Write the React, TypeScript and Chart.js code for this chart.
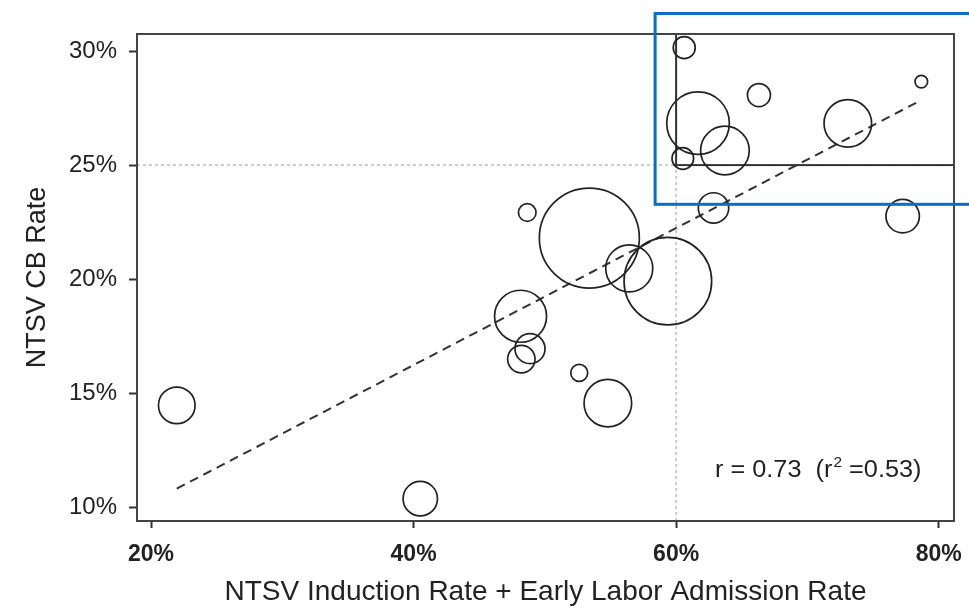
import { useEffect, useRef } from 'react';
import { Chart, registerables } from 'chart.js';
Chart.register(...registerables);

// Hospital data: x = NTSV induction + early labor admission rate (%), y = NTSV CB rate (%), r = bubble radius (hospital volume)
const inductionRate = [21.96, 40.51, 48.66, 53.39, 56.43, 59.37, 48.15, 48.87, 48.21, 52.62, 54.8, 62.85, 60.62, 66.31, 61.67, 63.72, 60.51, 73.08, 78.68, 77.26];
const cbRate = [14.46, 10.37, 22.92, 21.8, 20.47, 19.91, 18.37, 16.95, 16.49, 15.89, 14.56, 23.12, 30.15, 28.07, 26.84, 25.64, 25.29, 26.83, 28.66, 22.76];
const bubbleRadius = [18.3, 17.2, 8.8, 50, 23.5, 43.8, 26, 15, 13.7, 8.5, 23.8, 15.2, 11, 11.5, 31.3, 24.3, 10.8, 23.8, 6.3, 16.7];

// Regression line
const fitX = [21.96, 78.68];
const fitY = [10.81, 27.85];

const xTicks = [20, 40, 60, 80];
const yTicks = [10, 15, 20, 25, 30];
const xRange = [18.93, 81.17];
const yRange = [9.39, 30.75];
const thresholdX = 60;
const thresholdY = 25;
const highlightBox = { xMin: 58.4, xMax: 84, yMin: 23.28, yMax: 31.65 };
const statText = { x: 62.96, y: 11.62, pre: 'r = 0.73  (r', sup: '2', post: ' =0.53)' };

const xTitle = 'NTSV Induction Rate + Early Labor Admission Rate';
const yTitle = 'NTSV CB Rate';

const FONT = "'Liberation Sans', Arial, Helvetica, sans-serif";

const overlay = {
  id: 'overlay',
  beforeDatasetsDraw(chart: any) {
    const { ctx, chartArea: a, scales } = chart;
    const px = scales.x.getPixelForValue(thresholdX);
    const py = scales.y.getPixelForValue(thresholdY);
    ctx.save();
    ctx.strokeStyle = '#9a9a9a';
    ctx.lineWidth = 1;
    ctx.setLineDash([3, 3]);
    ctx.beginPath();
    ctx.moveTo(px, a.bottom);
    ctx.lineTo(px, a.top);
    ctx.moveTo(a.left, py);
    ctx.lineTo(a.right, py);
    ctx.stroke();
    ctx.setLineDash([]);
    ctx.strokeStyle = '#333';
    ctx.lineWidth = 2;
    ctx.strokeRect(px, a.top, a.right - px, py - a.top);
    ctx.restore();
  },
  afterDraw(chart: any) {
    const { ctx, chartArea: a, scales } = chart;
    ctx.save();
    // frame
    ctx.strokeStyle = '#444';
    ctx.lineWidth = 2;
    ctx.strokeRect(a.left, a.top, a.right - a.left, a.bottom - a.top);
    // stats text
    const tx = scales.x.getPixelForValue(statText.x);
    const ty = scales.y.getPixelForValue(statText.y);
    ctx.fillStyle = '#222';
    ctx.textBaseline = 'middle';
    ctx.textAlign = 'left';
    ctx.translate(tx, ty);
    ctx.scale(1.1, 1);
    ctx.font = `23px ${FONT}`;
    let cx = 0;
    ctx.fillText(statText.pre, cx, 0);
    cx += ctx.measureText(statText.pre).width;
    ctx.font = `14px ${FONT}`;
    ctx.fillText(statText.sup, cx + 1, -7);
    cx += ctx.measureText(statText.sup).width + 1;
    ctx.font = `23px ${FONT}`;
    ctx.fillText(statText.post, cx, 0);
    ctx.setTransform(1, 0, 0, 1, 0, 0);
    // blue highlight box
    const bx1 = scales.x.getPixelForValue(highlightBox.xMin);
    const bx2 = scales.x.getPixelForValue(highlightBox.xMax);
    const by1 = scales.y.getPixelForValue(highlightBox.yMax);
    const by2 = scales.y.getPixelForValue(highlightBox.yMin);
    ctx.strokeStyle = '#0a6fc2';
    ctx.lineWidth = 3;
    ctx.strokeRect(bx1, by1, bx2 - bx1, by2 - by1);
    ctx.restore();
  },
};

export default function App() {
  const ref = useRef<HTMLCanvasElement>(null);
  useEffect(() => {
    if (!ref.current) return;
    const chart = new Chart(ref.current, {
      type: 'bubble',
      data: {
        datasets: [
          {
            type: 'bubble',
            data: inductionRate.map((x, i) => ({ x, y: cbRate[i], r: bubbleRadius[i] })),
            backgroundColor: 'rgba(0,0,0,0)',
            borderColor: '#222',
            borderWidth: 1.7,
            hoverRadius: 0,
            clip: false,
          } as any,
          {
            type: 'line',
            data: fitX.map((x, i) => ({ x, y: fitY[i] })),
            borderColor: '#333',
            borderWidth: 2,
            borderDash: [9, 6],
            pointRadius: 0,
            fill: false,
          } as any,
        ],
      },
      options: {
        animation: false,
        responsive: false,
        events: [],
        layout: { autoPadding: false, padding: { top: 34, right: 15, left: 0, bottom: 0 } },
        plugins: { legend: { display: false }, tooltip: { enabled: false } },
        scales: {
          x: {
            type: 'linear',
            min: xRange[0],
            max: xRange[1],
            afterBuildTicks: (s: any) => {
              s.ticks = xTicks.map((v) => ({ value: v }));
            },
            afterFit: (s: any) => {
              s.height = 92;
              s.paddingLeft = 0;
              s.paddingRight = 0;
            },
            grid: { drawOnChartArea: false, drawTicks: true, tickLength: 7, tickColor: '#333', tickWidth: 2 },
            border: { display: false },
            ticks: {
              callback: (v: any) => v + '%',
              font: { family: FONT, size: 23, weight: 'bold' },
              color: '#222',
              padding: 13,
              maxRotation: 0,
            },
            title: {
              display: true,
              text: xTitle,
              font: { family: FONT, size: 28 },
              color: '#222',
              padding: { top: 0, bottom: 4 },
            },
          },
          y: {
            type: 'linear',
            min: yRange[0],
            max: yRange[1],
            afterBuildTicks: (s: any) => {
              s.ticks = yTicks.map((v) => ({ value: v }));
            },
            afterFit: (s: any) => {
              s.width = 137;
              s.paddingTop = 0;
              s.paddingBottom = 0;
            },
            grid: { drawOnChartArea: false, drawTicks: true, tickLength: 8, tickColor: '#333', tickWidth: 2 },
            border: { display: false },
            ticks: {
              callback: (v: any) => v + '%',
              font: { family: FONT, size: 24 },
              color: '#222',
              padding: 12,
            },
            title: {
              display: true,
              text: yTitle,
              font: { family: FONT, size: 27 },
              color: '#222',
              padding: { top: 21, bottom: 0 },
            },
          },
        },
      } as any,
      plugins: [overlay],
    });
    return () => chart.destroy();
  }, []);
  return (
    <div style={{ position: 'absolute', left: 0, top: 0, width: 969, height: 613, background: '#fff' }}>
      <canvas ref={ref} width={969} height={613} style={{ display: 'block' }} />
    </div>
  );
}
